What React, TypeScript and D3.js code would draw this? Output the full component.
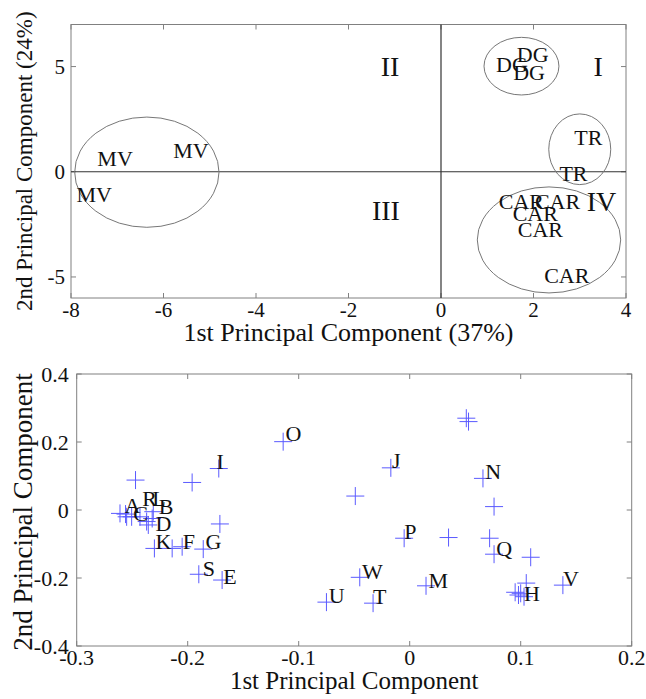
import React from "react";
import * as d3 from "d3";

// ---------- Top chart data ----------
const topXTicks = [-8, -6, -4, -2, 0, 2, 4];
const topYTicks = [-5, 0, 5];
const topLabels = ["MV", "MV", "MV", "DG", "DG", "DG", "TR", "TR", "CAR", "CAR", "CAR", "CAR", "CAR"];
const topLabelX = [-7.43, -5.79, -7.88, 1.19, 1.64, 1.56, 2.88, 2.56, 1.25, 2.03, 1.55, 1.66, 2.23];
const topLabelY = [0.62, 1.04, -1.09, 5.11, 5.6, 4.71, 1.65, -0.06, -1.41, -1.41, -1.96, -2.75, -4.94];
const quadNames = ["I", "II", "III", "IV"];
const quadX = [3.4, -1.1, -1.19, 3.47];
const quadY = [5.04, 5.04, -1.84, -1.41];
const ellipseCX = [-6.36, 1.74, 3.0, 2.335];
const ellipseCY = [-0.02, 5.02, 1.07, -3.24];
const ellipseRX = [1.56, 0.81, 0.67, 1.55];
const ellipseRY = [2.62, 1.37, 1.68, 2.52];

// ---------- Bottom chart data ----------
const botXTicks = [-0.3, -0.2, -0.1, 0, 0.1, 0.2];
const botYTicks = [-0.4, -0.2, 0, 0.2, 0.4];
const pointX = [
  -0.247, -0.196, -0.172, -0.114, -0.171,
  -0.261, -0.255, -0.2505, -0.243, -0.237, -0.2355, -0.231, -0.256, -0.232,
  -0.23, -0.214, -0.205, -0.186, -0.19, -0.169, -0.075,
  0.051, 0.053, -0.017, -0.049, 0.066, 0.076, -0.005, 0.035, 0.072, 0.076, 0.109,
  -0.045, -0.033, 0.0147, 0.138, 0.105, 0.095, 0.1, 0.103, 0.098,
];
const pointY = [
  0.088, 0.081, 0.122, 0.201, -0.041,
  -0.01, -0.02, -0.02, -0.02, -0.034, -0.044, -0.005, -0.012, -0.025,
  -0.113, -0.113, -0.108, -0.115, -0.189, -0.206, -0.271,
  0.27, 0.26, 0.124, 0.041, 0.093, 0.01, -0.083, -0.081, -0.083, -0.13, -0.139,
  -0.198, -0.274, -0.223, -0.221, -0.215, -0.242, -0.245, -0.255, -0.25,
];
const botLabels = ["O", "I", "A", "R", "L", "B", "C", "D", "K", "F", "G", "S", "E", "U", "T", "W", "M", "P", "J", "N", "Q", "H", "V"];
const botLabelX = [-0.112, -0.174, -0.257, -0.241, -0.232, -0.226, -0.249, -0.229, -0.229, -0.2045, -0.184, -0.1865, -0.168, -0.073, -0.033, -0.043, 0.017, -0.005, -0.016, 0.068, 0.078, 0.103, 0.138];
const botLabelY = [0.225, 0.144, 0.013, 0.034, 0.034, 0.01, -0.01, -0.039, -0.093, -0.093, -0.093, -0.172, -0.194, -0.25, -0.255, -0.181, -0.206, -0.064, 0.147, 0.113, -0.113, -0.245, -0.201];

const FONT = "'Liberation Serif', 'Times New Roman', serif";
const BOX = "#808080";
const TXT = "#111";
const TICK = 5;

function fmt(v: number) {
  return (Math.round(v * 10) / 10).toString();
}

export default function App() {
  // top scales
  const tx = d3.scaleLinear().domain([-8, 4]).range([71, 626]);
  const ty = d3.scaleLinear().domain([-6, 7]).range([298, 24.5]);
  // bottom scales
  const bx = d3.scaleLinear().domain([-0.3, 0.2]).range([76.7, 631.7]);
  const by = d3.scaleLinear().domain([-0.4, 0.4]).range([646, 374]);

  const [tx0, tx1] = tx.range();
  const [ty0, ty1] = ty.range();
  const [bx0, bx1] = bx.range();
  const [by0, by1] = by.range();

  return (
    <svg width={646} height={699} style={{ position: "absolute", left: 0, top: 0, background: "#fff" }} fontFamily={FONT}>
      {/* ===== TOP CHART ===== */}
      <rect x={tx0} y={ty1} width={tx1 - tx0} height={ty0 - ty1} fill="none" stroke={BOX} strokeWidth={1} />
      {topXTicks.map((t) => (
        <g key={"tx" + t}>
          <line x1={tx(t)} x2={tx(t)} y1={ty0} y2={ty0 - TICK} stroke={BOX} />
          <line x1={tx(t)} x2={tx(t)} y1={ty1} y2={ty1 + TICK} stroke={BOX} />
          <text x={tx(t)} y={ty0 + 19} textAnchor="middle" fontSize={21} fill={TXT}>{t}</text>
        </g>
      ))}
      {topYTicks.map((t) => (
        <g key={"ty" + t}>
          <line x1={tx0} x2={tx0 + TICK} y1={ty(t)} y2={ty(t)} stroke={BOX} />
          <line x1={tx1} x2={tx1 - TICK} y1={ty(t)} y2={ty(t)} stroke={BOX} />
          <text x={tx0 - 6} y={ty(t)} dy="0.35em" textAnchor="end" fontSize={21} fill={TXT}>{t}</text>
        </g>
      ))}
      {/* zero lines */}
      <line x1={tx0} x2={tx1} y1={ty(0)} y2={ty(0)} stroke="#333" strokeWidth={1.2} />
      <line x1={tx(0)} x2={tx(0)} y1={ty0} y2={ty1} stroke="#333" strokeWidth={1.2} />
      {/* ellipses */}
      {ellipseCX.map((cx, i) => (
        <ellipse
          key={"el" + i}
          cx={tx(cx)}
          cy={ty(ellipseCY[i])}
          rx={tx(cx + ellipseRX[i]) - tx(cx)}
          ry={ty(ellipseCY[i]) - ty(ellipseCY[i] + ellipseRY[i])}
          fill="none"
          stroke="#777"
          strokeWidth={1}
        />
      ))}
      {topLabels.map((l, i) => (
        <text key={"tl" + i} x={tx(topLabelX[i])} y={ty(topLabelY[i])} dy="0.35em" fontSize={22} fill={TXT}>{l}</text>
      ))}
      {quadNames.map((q, i) => (
        <text key={"q" + i} x={tx(quadX[i])} y={ty(quadY[i])} dy="0.35em" textAnchor="middle" fontSize={28} fill={TXT}>{q}</text>
      ))}
      <text x={(tx0 + tx1) / 2} y={ty0 + 43} textAnchor="middle" fontSize={26} fill={TXT}>1st Principal Component (37%)</text>
      <text transform={`translate(32,${(ty0 + ty1) / 2}) rotate(-90)`} textAnchor="middle" fontSize={23} fill={TXT}>2nd Principal Component (24%)</text>

      {/* ===== BOTTOM CHART ===== */}
      <rect x={bx0} y={by1} width={bx1 - bx0} height={by0 - by1} fill="none" stroke={BOX} strokeWidth={1} />
      {botXTicks.map((t) => (
        <g key={"bx" + t}>
          <line x1={bx(t)} x2={bx(t)} y1={by0} y2={by0 - TICK} stroke={BOX} />
          <line x1={bx(t)} x2={bx(t)} y1={by1} y2={by1 + TICK} stroke={BOX} />
          <text x={bx(t)} y={by0 + 19} textAnchor="middle" fontSize={22} fill={TXT}>{fmt(t)}</text>
        </g>
      ))}
      {botYTicks.map((t) => (
        <g key={"by" + t}>
          <line x1={bx0} x2={bx0 + TICK} y1={by(t)} y2={by(t)} stroke={BOX} />
          <line x1={bx1} x2={bx1 - TICK} y1={by(t)} y2={by(t)} stroke={BOX} />
          <text x={bx0 - 8} y={by(t)} dy="0.35em" textAnchor="end" fontSize={22} fill={TXT}>{fmt(t)}</text>
        </g>
      ))}
      {pointX.map((px, i) => {
        const cx = bx(px);
        const cy = by(pointY[i]);
        return (
          <g key={"p" + i} stroke="#5a5aff" strokeWidth={1}>
            <line x1={cx - 9} x2={cx + 9} y1={cy} y2={cy} />
            <line x1={cx} x2={cx} y1={cy - 9} y2={cy + 9} />
          </g>
        );
      })}
      {botLabels.map((l, i) => (
        <text key={"bl" + i} x={bx(botLabelX[i])} y={by(botLabelY[i])} dy="0.35em" fontSize={22} fill={TXT}>{l}</text>
      ))}
      <text x={(bx0 + bx1) / 2} y={by0 + 43} textAnchor="middle" fontSize={25} fill={TXT}>1st Principal Component</text>
      <text transform={`translate(32,${(by0 + by1) / 2 + 2}) rotate(-90)`} textAnchor="middle" fontSize={27} fill={TXT}>2nd Principal Component</text>
    </svg>
  );
}
